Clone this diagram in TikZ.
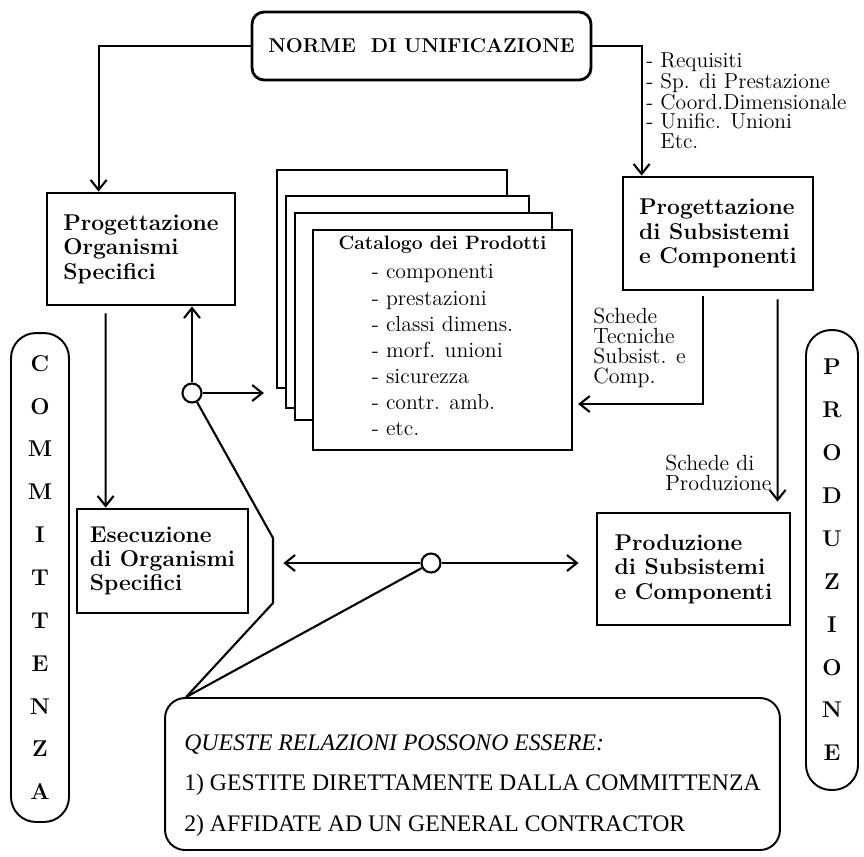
\documentclass[tikz,border=0pt]{standalone}
\usepackage{fontspec}
\newfontfamily\notefont{Liberation Serif}
\usepackage{tikz}
\usetikzlibrary{calc,arrows.meta,positioning}
\tikzset{
	box/.style={
		draw, rectangle, line width=1.6pt, align=left, inner sep=0pt,
		font=\fontsize{13}{13.9}\selectfont\bfseries
	},
	card/.style={draw, rectangle, fill=white, line width=1.3pt},
	capsule/.style={
		draw, rectangle, rounded corners=0.5cm, line width=1.1pt,
		align=center, font=\fontsize{13}{24.4}\selectfont\bfseries
	},
	ring/.style={draw, circle, fill=white, minimum size=0.38cm, inner sep=0pt, line width=1.2pt},
	plain/.style={align=left, inner sep=0pt, font=\fontsize{12.5}{11.3}\selectfont},
	link/.style={line width=1.2pt},
	>={Straight Barb[length=2mm,width=3.2mm]}
}

\begin{document}
\begin{tikzpicture}[x=0.02cm, y=-0.02cm]
  \useasboundingbox (0,0) rectangle (864,856);

  \node[draw, rounded corners=0.24cm, line width=1.6pt, minimum width=6.78cm, minimum height=1.36cm,
        font=\fontsize{11.4}{13}\selectfont\bfseries] (norme) at (421.5,46) {NORME\ \ DI UNIFICAZIONE};
  \node[plain, anchor=north west, font=\fontsize{12.3}{11}\selectfont] (reqs) at (646,52)
    {- Requisiti\\- Sp. di Prestazione\\- Coord.Dimensionale\\- Unific. Unioni\\\phantom{- }Etc.};

  \node[box, minimum width=3.76cm, minimum height=2.24cm] (progOrg) at (141,249) {Progettazione\\Organismi\\Specifici};
  \node[box, minimum width=3.8cm, minimum height=2.26cm] (progSub) at (718,233.5) {Progettazione\\di Subsistemi\\e Componenti};
  \node[box, minimum width=3.42cm, minimum height=2.08cm] (esec) at (162.5,561) {Esecuzione\\di Organismi\\Specifici};
  \node[box, minimum width=3.86cm, minimum height=2.24cm] (prod) at (693.5,569) {Produzione\\di Subsistemi\\e Componenti};

  \node[card, minimum width=4.6cm, minimum height=4.36cm] (cat1) at (392,279) {};
  \node[card, minimum width=4.86cm, minimum height=4.24cm] (cat2) at (407.5,302) {};
  \node[card, minimum width=5.14cm, minimum height=4.14cm] (cat3) at (423.5,316.5) {};
  \node[card, minimum width=5.18cm, minimum height=4.32cm, align=center] (cat4) at (442.5,340)
    {{\fontsize{11}{13}\selectfont\bfseries Catalogo dei Prodotti}\\[3pt]
     {\fontsize{12.4}{14.9}\selectfont
      \begin{tabular}{@{}l@{}}
        - componenti\\- prestazioni\\- classi dimens.\\- morf. unioni\\- sicurezza\\- contr. amb.\\- etc.
      \end{tabular}}};

  \node[plain, anchor=west] (schTec) at (593,348) {Schede\\Tecniche\\Subsist. e\\Comp.};
  \node[plain, anchor=west] (schProd) at (665,473) {Schede di\\Produzione};

  \node[capsule, minimum width=1.16cm, minimum height=9.78cm] (committ) at (40,577.5)
    {C\\O\\M\\M\\I\\T\\T\\E\\N\\Z\\A};
  \node[capsule, minimum width=1.04cm, minimum height=9.2cm] (produz) at (832,560)
    {P\\R\\O\\D\\U\\Z\\I\\O\\N\\E};

  \node[ring] (c1) at (192,393) {};
  \node[ring] (c2) at (431,563) {};

  \node[draw, rounded corners=0.4cm, line width=1.1pt, minimum width=12.3cm, minimum height=3.04cm,
        align=left, font=\notefont\fontsize{13.5}{23}\selectfont] (note) at (472.5,774)
    {\rule{0pt}{22pt}\textit{QUESTE RELAZIONI POSSONO ESSERE:}\\
     1) GESTITE DIRETTAMENTE DALLA COMMITTENZA\\
     2) AFFIDATE AD UN GENERAL CONTRACTOR};

  \draw[link,->] (norme.west) -| ([xshift=1.06cm]progOrg.north west);
  \draw[link,->] (norme.east) -| ([xshift=0.4cm]progSub.north west);
  \draw[link,->] ([xshift=1.2cm,yshift=-0.14cm]progOrg.south west) -- ([xshift=0.6cm]esec.north west);
  \draw[link,->] (c1) -- (c1 |- progOrg.south);
  \draw[link,->,shorten >=0.24cm] (c1) -- (c1 -| cat1.west);

  \coordinate (tecTurn) at (703,404);
  \draw[link,->,shorten >=0.1cm] ([yshift=-0.1cm]progSub.south -| tecTurn) -- (tecTurn) -- (tecTurn -| cat4.east);
  \draw[link,->,shorten >=0.2cm] ([xshift=3.12cm,yshift=-0.16cm]progSub.south west) -- ([xshift=3.64cm]prod.north west);

  \draw[link,<-,shorten <=0.68cm] (esec.east |- c2) -- (c2);
  \draw[link,->,shorten >=0.34cm] (c2) -- (prod.west |- c2);

  \coordinate (k1) at (273,538);
  \coordinate (k2) at (273,603);
  \coordinate (tip) at ([xshift=0.44cm]note.north west);
  \draw[link] (c1) -- (k1) -- (k2) -- (tip);
  \draw[link] (c2) -- (tip);
\end{tikzpicture}
\end{document}
